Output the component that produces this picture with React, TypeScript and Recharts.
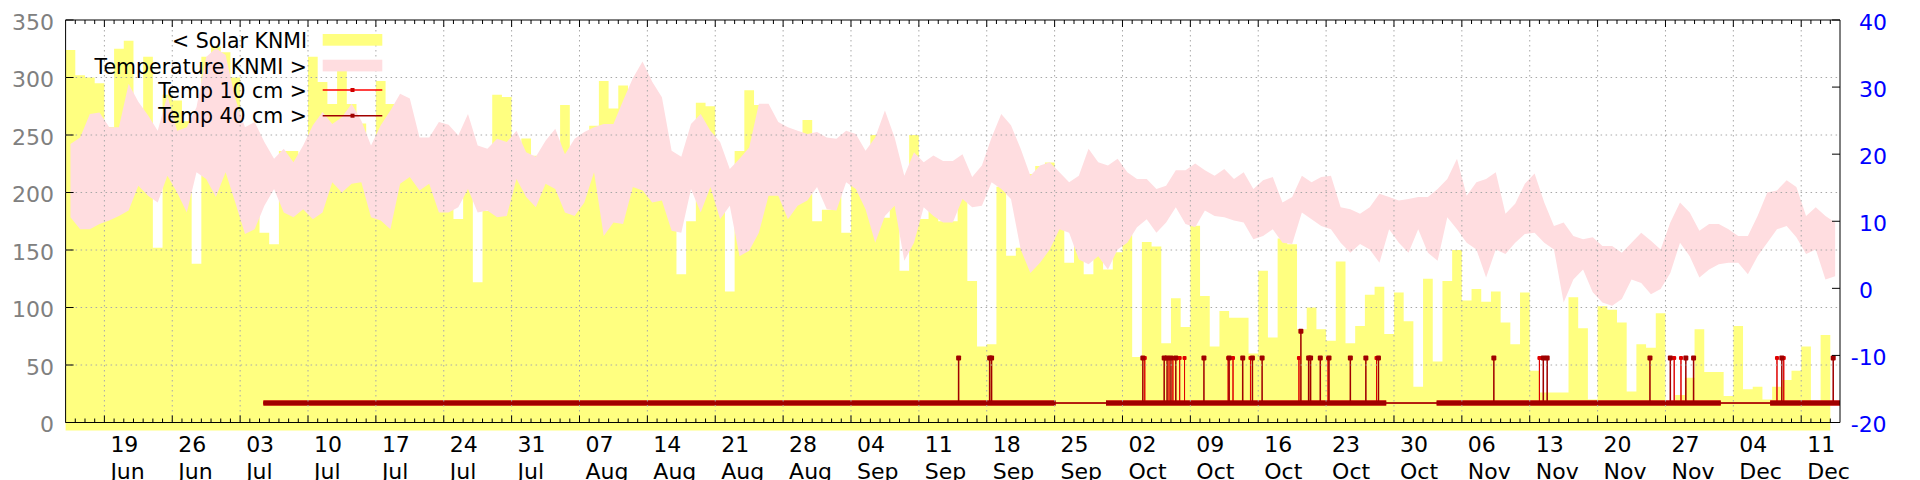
import React from 'react';
import { ComposedChart, Area, Line, XAxis, YAxis, ReferenceLine } from 'recharts';

// day index 0 = 15 Jun, 183 = 15 Dec
const solar = [
  324, 302, 300, 295, 257, 325, 332, 240, 318, 152,
  285, 280, 262, 138, 318, 327, 322, 300, 230, 228,
  165, 155, 236, 236, 230, 318, 296, 277, 311, 277,
  260, 238, 297, 277, 265, 255, 240, 235, 220, 215,
  177, 210, 122, 184, 285, 283, 240, 247, 232, 225,
  240, 276, 232, 240, 258, 297, 273, 293, 260, 255,
  250, 245, 215, 129, 175, 278, 275, 215, 114, 236,
  289, 276, 250, 240, 235, 230, 263, 175, 185, 225,
  165, 230, 220, 250, 178, 225, 132, 250, 177, 195,
  175, 175, 195, 123, 66, 68, 205, 145, 152, 216,
  223, 226, 212, 139, 157, 129, 149, 133, 148, 168,
  57, 157, 153, 69, 108, 83, 171, 110, 66, 97,
  91, 91, 60, 132, 74, 160, 155, 81, 100, 81,
  71, 140, 69, 84, 111, 118, 77, 113, 88, 31,
  125, 53, 123, 150, 106, 116, 105, 114, 87, 68,
  113, 45, 26, 26, 26, 109, 82, 20, 101, 98,
  87, 27, 68, 65, 95, 15, 24, 39, 81, 44,
  44, 23, 84, 29, 31, 20, 31, 37, 45, 66,
  17, 76,
];

const tempMax = [
  21.5, 22.5, 26.0, 26.2, 24.0, 24.0, 30.5, 27.8, 25.8, 23.5,
  28.8, 23.5, 24.0, 27.0, 34.5, 35.8, 34.8, 28.3, 24.0, 24.8,
  21.8, 19.3, 20.8, 18.8, 21.3, 24.3, 26.3, 24.5, 25.5, 27.5,
  25.0, 21.3, 24.3, 26.5, 29.0, 28.3, 22.5, 22.5, 24.8, 24.4,
  22.8, 26.0, 21.3, 20.8, 22.3, 21.8, 23.5, 20.3, 19.6, 22.0,
  23.8, 20.0, 22.3, 23.3, 24.0, 24.5, 24.5, 28.0, 31.3, 33.8,
  30.8, 28.5, 20.5, 19.6, 24.5, 26.0, 23.5, 21.8, 17.8, 19.3,
  21.0, 27.5, 27.5, 24.8, 24.0, 23.5, 23.0, 23.3, 22.5, 22.3,
  23.5, 23.0, 20.5, 22.5, 26.5, 22.5, 16.8, 20.3, 18.8, 19.8,
  19.0, 19.0, 20.0, 16.6, 18.3, 22.5, 26.0, 24.3, 20.8, 16.8,
  18.3, 18.8, 17.3, 15.8, 16.8, 20.8, 18.8, 18.3, 19.3, 17.3,
  16.3, 16.3, 14.8, 15.3, 17.6, 17.6, 18.6, 17.6, 16.8, 17.8,
  16.3, 17.3, 14.8, 16.1, 16.6, 12.8, 13.6, 16.8, 15.8, 16.6,
  16.8, 12.1, 11.8, 11.1, 12.1, 14.1, 13.6, 13.1, 13.3, 13.6,
  13.6, 14.8, 16.3, 19.3, 13.8, 15.8, 16.3, 17.3, 11.1, 12.6,
  15.6, 17.1, 12.8, 9.3, 9.8, 7.8, 7.3, 7.6, 6.3, 6.3,
  5.3, 6.8, 8.3, 7.1, 5.8, 9.8, 12.8, 11.3, 8.6, 9.6,
  9.6, 8.8, 7.8, 7.8, 10.8, 14.3, 14.6, 16.1, 15.1, 10.8,
  12.1, 10.8, 9.8,
];

const tempMin = [
  10.6, 8.8, 8.8, 9.6, 10.1, 10.8, 11.6, 15.3, 13.8, 12.8,
  16.8, 14.3, 11.3, 17.3, 16.3, 13.6, 17.3, 12.8, 8.1, 8.8,
  12.3, 14.8, 11.3, 10.6, 11.8, 10.3, 11.3, 15.8, 14.3, 15.6,
  15.8, 10.6, 10.1, 8.8, 15.6, 16.6, 14.6, 15.6, 11.3, 11.3,
  12.1, 14.8, 11.3, 11.6, 10.6, 10.8, 16.3, 13.6, 12.1, 15.6,
  14.8, 11.3, 10.8, 12.8, 17.3, 7.8, 9.8, 9.6, 15.1, 14.6,
  12.8, 13.1, 8.6, 8.3, 14.8, 11.3, 15.1, 10.3, 12.3, 4.8,
  5.6, 8.3, 13.8, 13.8, 10.3, 12.3, 13.1, 15.1, 11.8, 11.6,
  15.8, 14.8, 11.8, 6.8, 10.8, 12.3, 4.1, 6.8, 12.1, 10.8,
  9.8, 9.8, 13.3, 12.1, 12.3, 15.8, 14.8, 13.3, 5.8, 2.3,
  3.8, 5.8, 8.8, 8.3, 4.3, 3.6, 4.8, 2.8, 5.8, 6.8,
  9.1, 10.3, 8.3, 9.8, 12.1, 9.6, 9.1, 11.6, 10.8, 10.6,
  10.1, 9.8, 7.3, 7.8, 8.8, 6.8, 6.6, 11.3, 10.3, 9.3,
  8.8, 6.8, 5.3, 6.6, 5.8, 3.8, 8.8, 6.8, 5.3, 8.8,
  5.3, 4.1, 10.6, 8.8, 6.8, 5.8, 1.6, 5.8, 5.1, 6.8,
  8.1, 8.3, 6.8, 5.8, -2.1, 1.3, 2.8, -0.6, -2.1, -2.6,
  -1.6, 1.3, 0.8, -0.9, -0.1, 2.3, 6.8, 4.8, 1.6, 2.8,
  3.6, 3.8, 3.8, 2.1, 4.8, 6.8, 8.8, 9.3, 7.6, 5.1,
  5.8, 1.3, 1.8,
];

const soilBase = -17.1;
const soilSegments: [number, number][] = [
  [20.4, 102.1],
  [107.3, 136.2],
  [141.4, 170.7],
  [175.8, 183],
];
const spikes40 = [92.1, 95.3, 95.5, 111.1, 113.3, 113.6, 114.0, 114.5, 117.4, 120.0, 121.4, 122.4, 123.4, 127.4, 128.2, 128.4, 129.4, 130.3, 132.5, 134.1, 135.4, 147.3, 152.4, 152.8, 163.4, 165.5, 167.1, 167.9, 177.0, 182.3];
const peaks40 = [-10.4, -10.4, -10.4, -10.4, -10.4, -10.4, -10.4, -10.4, -10.4, -10.4, -10.4, -10.4, -10.4, -6.4, -10.4, -10.4, -10.4, -10.4, -10.4, -10.4, -10.4, -10.4, -10.4, -10.4, -10.4, -10.4, -10.4, -10.4, -10.4, -10.4];
const spikes10 = [111.3, 113.8, 114.2, 114.9, 115.4, 119.9, 120.4, 122.2, 127.2, 130.2, 135.2, 152.0, 165.9, 166.6, 176.5, 177.2];
const peaks10 = [-10.4, -10.4, -10.4, -10.4, -10.4, -10.4, -10.4, -10.4, -10.4, -10.4, -10.4, -10.4, -10.4, -10.4, -10.4, -10.4];

const majorDays = [4, 11, 18, 25, 32, 39, 46, 53, 60, 67, 74, 81, 88, 95, 102, 109, 116, 123, 130, 137, 144, 151, 158, 165, 172, 179];
const majorDayLabels = ['19', '26', '03', '10', '17', '24', '31', '07', '14', '21', '28', '04', '11', '18', '25', '02', '09', '16', '23', '30', '06', '13', '20', '27', '04', '11'];
const majorMonthLabels = ['Jun', 'Jun', 'Jul', 'Jul', 'Jul', 'Jul', 'Jul', 'Aug', 'Aug', 'Aug', 'Aug', 'Sep', 'Sep', 'Sep', 'Sep', 'Oct', 'Oct', 'Oct', 'Oct', 'Oct', 'Nov', 'Nov', 'Nov', 'Nov', 'Dec', 'Dec'];
const leftTicks = [0, 50, 100, 150, 200, 250, 300, 350];
const rightTicks = [-20, -10, 0, 10, 20, 30, 40];

const legendItems = [
  { label: '< Solar KNMI', kind: 'box', color: '#ffff80' },
  { label: 'Temperature KNMI >', kind: 'box', color: '#ffdde0' },
  { label: 'Temp 10 cm >', kind: 'line', color: '#ff0000' },
  { label: 'Temp 40 cm >', kind: 'line', color: '#a00000' },
];

// ---- derived tables ----
const solarData = solar.map((v, i) => ({ x: i, v })).concat([{ x: solar.length, v: solar[solar.length - 1] }]);
const tempData = tempMax.map((mx, i) => ({ x: i + 0.5, r: [tempMin[i], mx] }));
const allDays: number[] = [];
for (let d = 1; d <= 182; d++) allDays.push(d);

function buildThin(days: number[], peaks: number[]) {
  const pts: any[] = [];
  soilSegments.forEach(([a, b]) => {
    pts.push({ x: a, y: soilBase });
    pts.push({ x: b, y: soilBase });
  });
  days.forEach((d, i) => {
    pts.push({ x: d - 0.004, y: soilBase });
    pts.push({ x: d, y: peaks[i], peak: true });
    pts.push({ x: d + 0.004, y: soilBase });
  });
  pts.sort((p, q) => p.x - q.x);
  return pts;
}
function buildThick() {
  const pts: any[] = [];
  soilSegments.forEach(([a, b], i) => {
    if (i > 0) pts.push({ x: (soilSegments[i - 1][1] + a) / 2, y: null });
    pts.push({ x: a, y: soilBase });
    pts.push({ x: b, y: soilBase });
  });
  return pts;
}
const thin10 = buildThin(spikes10, peaks10);
const thin40 = buildThin(spikes40, peaks40);
const thick = buildThick();

const PLOT_W = 1774.4;
const PLOT_H = 402.5;
const FONT = 'DejaVu Sans, sans-serif';
const GRID = { stroke: '#a8a8a8', strokeWidth: 1, strokeDasharray: '1.5 3.5' };

const XTick = (props: any) => {
  const { x, y, payload } = props;
  const d = payload.value;
  const idx = majorDays.indexOf(d);
  const major = idx >= 0;
  const len = major ? 7 : 4;
  const top = y - PLOT_H;
  return (
    <g>
      {major && <line x1={x} x2={x} y1={top} y2={y} {...GRID} />}
      <line x1={x} x2={x} y1={y} y2={y - len} stroke="#000" strokeWidth={1} />
      <line x1={x} x2={x} y1={top} y2={top + len} stroke="#000" strokeWidth={1} />
      {major && (
        <text x={x + 6} y={y + 29} fontSize={22} fontFamily={FONT} fill="#000">{majorDayLabels[idx]}</text>
      )}
      {major && (
        <text x={x + 6} y={y + 56.5} fontSize={22} fontFamily={FONT} fill="#000">{majorMonthLabels[idx]}</text>
      )}
    </g>
  );
};

const YLeftTick = (props: any) => {
  const { x, y, payload } = props;
  const v = payload.value;
  return (
    <g>
      {v !== 0 && v !== 350 && <line x1={x} x2={x + PLOT_W} y1={y} y2={y} {...GRID} />}
      <line x1={x} x2={x + 8} y1={y} y2={y} stroke="#000" strokeWidth={1} />
      <text x={x - 11.6} y={y + 9.5} textAnchor="end" fontSize={22} fontFamily={FONT} fill="#808080">{v}</text>
    </g>
  );
};

const YRightTick = (props: any) => {
  const { x, y, payload } = props;
  const v = payload.value;
  return (
    <g>
      <line x1={x - 8} x2={x} y1={y} y2={y} stroke="#000" strokeWidth={1} />
      <text x={x + (v < 0 ? 10.7 : 19)} y={y + 9.5} textAnchor="start" fontSize={22} fontFamily={FONT} fill="#0000ff">{v}</text>
    </g>
  );
};

const makeDot = (color: string, size: number) => (props: any) => {
  const { cx, cy, payload, index } = props;
  if (!payload || !payload.peak || cx == null || cy == null) return <g key={'n' + index} />;
  return <rect key={'p' + index} x={cx - size / 2} y={cy - size / 2} width={size} height={size} rx={1} fill={color} />;
};

export default function App() {
  return (
    <div style={{ position: 'relative', width: 1912, height: 472 }}>
      <ComposedChart width={1912} height={472} margin={{ top: 12, right: 0, bottom: 0, left: 0 }}>
        <Area
          data={solarData}
          dataKey="v"
          yAxisId="left"
          type="stepAfter"
          fill="#ffff80"
          fillOpacity={1}
          stroke="none"
          baseValue={-7}
          isAnimationActive={false}
          dot={false}
          activeDot={false}
        />
        <Area
          data={tempData}
          dataKey="r"
          yAxisId="right"
          type="linear"
          fill="#ffdde0"
          fillOpacity={1}
          stroke="none"
          isAnimationActive={false}
          dot={false}
          activeDot={false}
        />
        <Line data={thick} dataKey="y" yAxisId="right" type="linear" stroke="#ff0000" strokeWidth={5} dot={false} activeDot={false} isAnimationActive={false} />
        <Line data={thin10} dataKey="y" yAxisId="right" type="linear" stroke="#e00000" strokeWidth={1} dot={makeDot('#e00000', 4)} activeDot={false} isAnimationActive={false} />
        <Line data={thick} dataKey="y" yAxisId="right" type="linear" stroke="#a00000" strokeWidth={5} dot={false} activeDot={false} isAnimationActive={false} />
        <Line data={thin40} dataKey="y" yAxisId="right" type="linear" stroke="#a00000" strokeWidth={1.5} dot={makeDot('#a00000', 5)} activeDot={false} isAnimationActive={false} />
        <ReferenceLine yAxisId="left" y={350} stroke="#000" strokeWidth={1} />
        <XAxis
          dataKey="x"
          type="number"
          domain={[0, 183]}
          ticks={allDays}
          interval={0}
          tick={<XTick />}
          tickLine={false}
          tickSize={0}
          tickMargin={0}
          height={57.5}
          axisLine={{ stroke: '#000', strokeWidth: 1 }}
        />
        <YAxis
          yAxisId="left"
          orientation="left"
          type="number"
          domain={[0, 350]}
          ticks={leftTicks}
          interval={0}
          width={57.6}
          tick={<YLeftTick />}
          tickLine={false}
          tickSize={0}
          tickMargin={0}
          axisLine={{ stroke: '#000', strokeWidth: 1 }}
        />
        <YAxis
          yAxisId="right"
          orientation="right"
          type="number"
          domain={[-20, 40]}
          ticks={rightTicks}
          interval={0}
          width={80}
          tick={<YRightTick />}
          tickLine={false}
          tickSize={0}
          tickMargin={0}
          axisLine={{ stroke: '#000', strokeWidth: 1 }}
        />
      </ComposedChart>
      <svg width={1912} height={472} style={{ position: 'absolute', left: 0, top: 0, pointerEvents: 'none' }}>
        {legendItems.map((it, i) => {
          const base = [40.3, 66, 90.3, 115.3][i];
          const mid = [32, 57.7, 82, 107.7][i];
          return (
            <g key={it.label}>
              <text x={299} y={base} textAnchor="end" fontSize={20.5} fontFamily={FONT} fill="#000">{it.label}</text>
              {it.kind === 'box' ? (
                <rect x={314.7} y={mid - 6} width={59.6} height={11.7} fill={it.color} />
              ) : (
                <g>
                  <line x1={314.7} x2={374.3} y1={mid} y2={mid} stroke={it.color} strokeWidth={1.5} />
                  <rect x={342.5} y={mid - 2} width={4} height={4} fill={i === 2 ? '#d00000' : '#a00000'} />
                </g>
              )}
            </g>
          );
        })}
      </svg>
    </div>
  );
}
